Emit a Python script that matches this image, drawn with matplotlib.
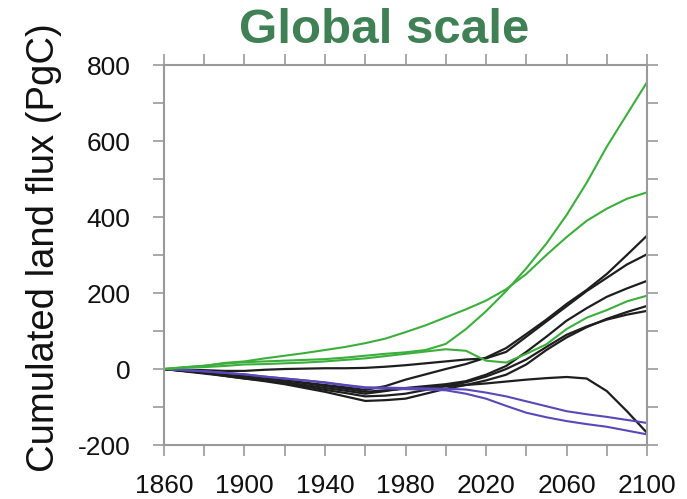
import numpy as np
import matplotlib
matplotlib.use("Agg")
from matplotlib import pyplot as plt
from matplotlib.ticker import MultipleLocator, FixedLocator

# years, every 10 years
years = np.arange(1860, 2101, 10)

# green models
green_a = [0, 4, 9, 14, 18, 20, 22, 24, 26, 30, 35, 40, 44, 50, 66, 105, 152, 205, 265, 330, 405, 490, 585, 670, 755]
green_b = [0, 5, 8, 16, 20, 28, 35, 42, 50, 58, 68, 80, 97, 115, 136, 157, 180, 210, 250, 300, 347, 390, 422, 448, 465]
green_c = [0, 3, 5, 8, 12, 13, 15, 17, 20, 24, 28, 34, 40, 46, 52, 48, 22, 17, 40, 65, 105, 135, 155, 178, 193]

# black models
black_a = [0, -4, -8, -14, -20, -25, -30, -36, -42, -48, -55, -45, -28, -14, 0, 13, 30, 55, 92, 130, 171, 208, 250, 300, 351]
black_b = [0, -2, -3, -5, -5, -2, 0, 1, 2, 2, 3, 6, 10, 15, 20, 25, 28, 45, 85, 125, 165, 205, 240, 275, 302]
black_c = [0, -5, -10, -18, -25, -30, -35, -42, -50, -57, -65, -58, -50, -45, -40, -32, -15, 8, 45, 85, 127, 160, 190, 212, 232]
black_d = [0, -6, -12, -18, -25, -32, -40, -50, -60, -72, -84, -82, -78, -65, -52, -42, -30, -15, 12, 50, 83, 110, 132, 150, 166]
black_e = [0, -5, -10, -16, -22, -30, -38, -46, -55, -63, -72, -70, -65, -55, -45, -35, -20, 0, 25, 58, 90, 112, 130, 143, 153]
black_f = [0, -4, -8, -13, -18, -24, -30, -37, -45, -52, -60, -56, -52, -48, -45, -42, -38, -33, -28, -24, -21, -25, -58, -111, -168]

# blue models
blue_a = [0, -3, -6, -10, -14, -20, -25, -30, -35, -42, -48, -49, -50, -51, -52, -54, -62, -72, -85, -98, -111, -119, -126, -134, -142]
blue_b = [0, -3, -6, -10, -14, -20, -25, -30, -36, -43, -50, -51, -53, -54, -56, -65, -78, -97, -115, -127, -137, -145, -152, -162, -172]

xticks = [1860, 1900, 1940, 1980, 2020, 2060, 2100]

plt.rcParams['font.family'] = ['Liberation Sans', 'DejaVu Sans']
plt.rcParams['axes.unicode_minus'] = False

fig = plt.figure(figsize=(6.87, 4.99), dpi=100)
ax = fig.add_axes([0.2387, 0.1082, 0.7031, 0.7615])

for s in [black_a, black_b, black_c, black_d, black_e, black_f]:
    ax.plot(years, s, color='#1e1e1e', lw=1.6)
for s in [blue_a, blue_b]:
    ax.plot(years, s, color='#5a48b8', lw=1.5)
for s in [green_a, green_b, green_c]:
    ax.plot(years, s, color='#3cae3c', lw=1.5)

ax.set_xlim(1860, 2100)
ax.set_ylim(-200, 800)
ax.xaxis.set_major_locator(FixedLocator(xticks))
ax.xaxis.set_minor_locator(MultipleLocator(20))
ax.yaxis.set_major_locator(MultipleLocator(200))
ax.yaxis.set_minor_locator(MultipleLocator(100))
ax.tick_params(which='both', direction='out', length=8, width=1.2, color='#999999',
               top=True, right=True, labelsize=19, labelcolor='#111111')
ax.tick_params(axis='x', pad=13)
ax.tick_params(axis='y', pad=16)
for sp in ax.spines.values():
    sp.set_color('#999999')
    sp.set_linewidth(1.5)

fig.text(0.064, 0.504, 'Cumulated land flux (PgC)', rotation=90, ha='center', va='center',
         fontsize=27.5, color='#111111')
fig.text(0.559, 0.938, 'Global scale', ha='center', va='center',
         fontsize=35.5, fontweight='bold', color='#3f8055')

fig.savefig('out.png', dpi=100)
